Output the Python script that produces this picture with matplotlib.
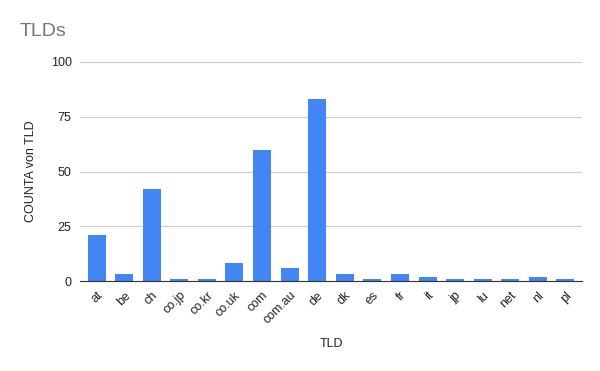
import matplotlib.pyplot as plt

# Data
tlds = ['at', 'be', 'ch', 'co.jp', 'co.kr', 'co.uk', 'com', 'com.au', 'de',
        'dk', 'es', 'fr', 'it', 'jp', 'lu', 'net', 'nl', 'pl']
counts = [21, 3, 42, 1, 1, 8, 60, 6, 83, 3, 1, 3, 2, 1, 1, 1, 2, 1]
y_ticks = [0, 25, 50, 75, 100]

plt.rcParams['font.family'] = ['Liberation Sans', 'DejaVu Sans']

fig = plt.figure(figsize=(6, 3.71), dpi=100)
ax = fig.add_axes([80 / 600, 1 - 281 / 371, 502 / 600, 219 / 371])

x = list(range(len(tlds)))
ax.bar(x, counts, width=0.65, color='#4285f4', zorder=3)

ax.set_xlim(-0.6, len(tlds) - 0.4)
ax.set_ylim(0, 100)
ax.set_yticks(y_ticks)
ax.set_yticklabels([str(v) for v in y_ticks], fontsize=9, color='#222222')
ax.set_xticks(x)
ax.set_xticklabels(tlds, rotation=45, ha='right', rotation_mode='anchor',
                   fontsize=9, color='#222222')
ax.tick_params(length=0, pad=6)
ax.grid(axis='y', color='#cccccc', linewidth=0.8, zorder=0)
for side in ['top', 'right', 'left']:
    ax.spines[side].set_visible(False)
ax.spines['bottom'].set_color('#333333')
ax.spines['bottom'].set_zorder(4)

ax.set_ylabel('COUNTA von TLD', fontsize=9, color='#222222', labelpad=10)
ax.set_xlabel('TLD', fontsize=9, color='#222222', labelpad=8)

fig.text(20 / 600, 1 - 31 / 371, 'TLDs', fontsize=14, color='#757575',
         va='center', ha='left')

fig.savefig('out.png', dpi=100)
